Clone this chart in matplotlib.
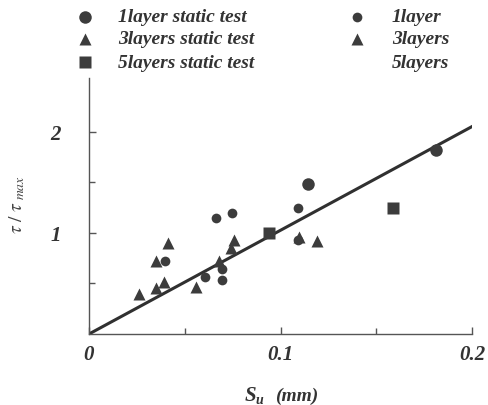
import matplotlib
matplotlib.use("Agg")
import matplotlib.pyplot as plt
from matplotlib.lines import Line2D

plt.rcParams["mathtext.fontset"] = "stix"

# ---- data ----
c1_static_x = [0.1144, 0.1814]
c1_static_y = [1.48, 1.82]
c1_x = [0.0396, 0.0608, 0.0661, 0.0747, 0.0694, 0.0693, 0.109, 0.109]
c1_y = [0.72, 0.56, 1.15, 1.20, 0.64, 0.53, 1.25, 0.93]
t3_static_x = [0.0262, 0.0352, 0.0390, 0.0413, 0.0557, 0.0743]
t3_static_y = [0.40, 0.45, 0.51, 0.90, 0.46, 0.85]
t3_x = [0.0352, 0.0679, 0.0757, 0.1094, 0.1189]
t3_y = [0.72, 0.72, 0.93, 0.96, 0.92]
s5_static_x = [0.0939, 0.159]
s5_static_y = [1.00, 1.25]
fit_x = [0.0, 0.2]
fit_y = [0.0, 2.05]
xticks = [0.0, 0.1, 0.2]
xticklabels = ["0", "0.1", "0.2"]
yticks = [1, 2]
yticklabels = ["1", "2"]

W, H = 488, 406
fig = plt.figure(figsize=(W / 100, H / 100), dpi=100)
ax = fig.add_axes([89 / W, 1 - 335 / H, (472 - 89) / W, (335 - 79) / H])

mc = "#3c3c3c"
tc = "#333333"
serif = "Liberation Serif"

ax.plot(fit_x, fit_y, color="#303030", lw=2.2, zorder=2)
ax.plot(c1_static_x, c1_static_y, "o", color=mc, ms=9, mec="none", zorder=3)
ax.plot(c1_x, c1_y, "o", color=mc, ms=7, mec="none", zorder=3)
ax.plot(t3_static_x, t3_static_y, "^", color=mc, ms=9, mec="none", zorder=3)
ax.plot(t3_x, t3_y, "^", color=mc, ms=9, mec="none", zorder=3)
ax.plot(s5_static_x, s5_static_y, "s", color=mc, ms=8.5, mec="none", zorder=3)

ax.set_xlim(0, 0.2)
ax.set_ylim(0, 2.53)
for s in ["top", "right"]:
    ax.spines[s].set_visible(False)
for s in ["left", "bottom"]:
    ax.spines[s].set_color("#555555")
    ax.spines[s].set_linewidth(1.0)

ax.set_xticks(xticks)
ax.set_xticklabels(xticklabels)
ax.set_xticks([0.05, 0.15], minor=True)
ax.set_yticks(yticks)
ax.set_yticklabels(yticklabels)
ax.set_yticks([0.5, 1.5], minor=True)
ax.tick_params(which="both", direction="in", color="#555555", width=1.0)
ax.tick_params(which="major", length=5)
ax.tick_params(which="minor", length=4)
ax.tick_params(axis="x", pad=7)
ax.tick_params(axis="y", pad=20)
for lab in ax.get_xticklabels() + ax.get_yticklabels():
    lab.set_fontfamily(serif)
    lab.set_fontstyle("italic")
    lab.set_fontweight("bold")
    lab.set_fontsize(15)
    lab.set_color(tc)

# x label pieces
fig.text(250 / W, 1 - 396 / H, "S", ha="center", va="center",
         fontsize=15, family=serif, style="italic", weight="bold", color=tc)
fig.text(259 / W, 1 - 401 / H, "u", ha="center", va="center",
         fontsize=10, family=serif, style="italic", weight="bold", color=tc)
fig.text(275 / W, 1 - 396 / H, "(mm)", ha="left", va="center",
         fontsize=14, family=serif, style="italic", weight="bold", color=tc)
# y label
fig.text(17 / W, 1 - 205 / H, r"$\tau\ /\ \tau_{\ max}$", rotation=90, ha="center", va="center",
         fontsize=14, color="#444444")

# ---- legend drawn manually in figure pixels ----
rows = [18, 40, 63]
col1 = [("o", 9, "1layer static test"), ("^", 9, "3layers static test"), ("s", 8.5, "5layers static test")]
col2 = [("o", 7, "1layer"), ("^", 8, "3layers"), (None, 0, "5layers")]
for (m, ms, txt), y in zip(col1, rows):
    fig.add_artist(Line2D([85 / W], [1 - y / H], marker=m, ms=ms, color=mc, mec="none",
                          transform=fig.transFigure))
    fig.text(118 / W, 1 - y / H, txt, ha="left", va="center", fontsize=14,
             family=serif, style="italic", weight="bold", color=tc)
for (m, ms, txt), y in zip(col2, rows):
    if m:
        fig.add_artist(Line2D([357 / W], [1 - y / H], marker=m, ms=ms, color=mc, mec="none",
                              transform=fig.transFigure))
    fig.text(392 / W, 1 - y / H, txt, ha="left", va="center", fontsize=14,
             family=serif, style="italic", weight="bold", color=tc)

fig.savefig("out.png", dpi=100)
